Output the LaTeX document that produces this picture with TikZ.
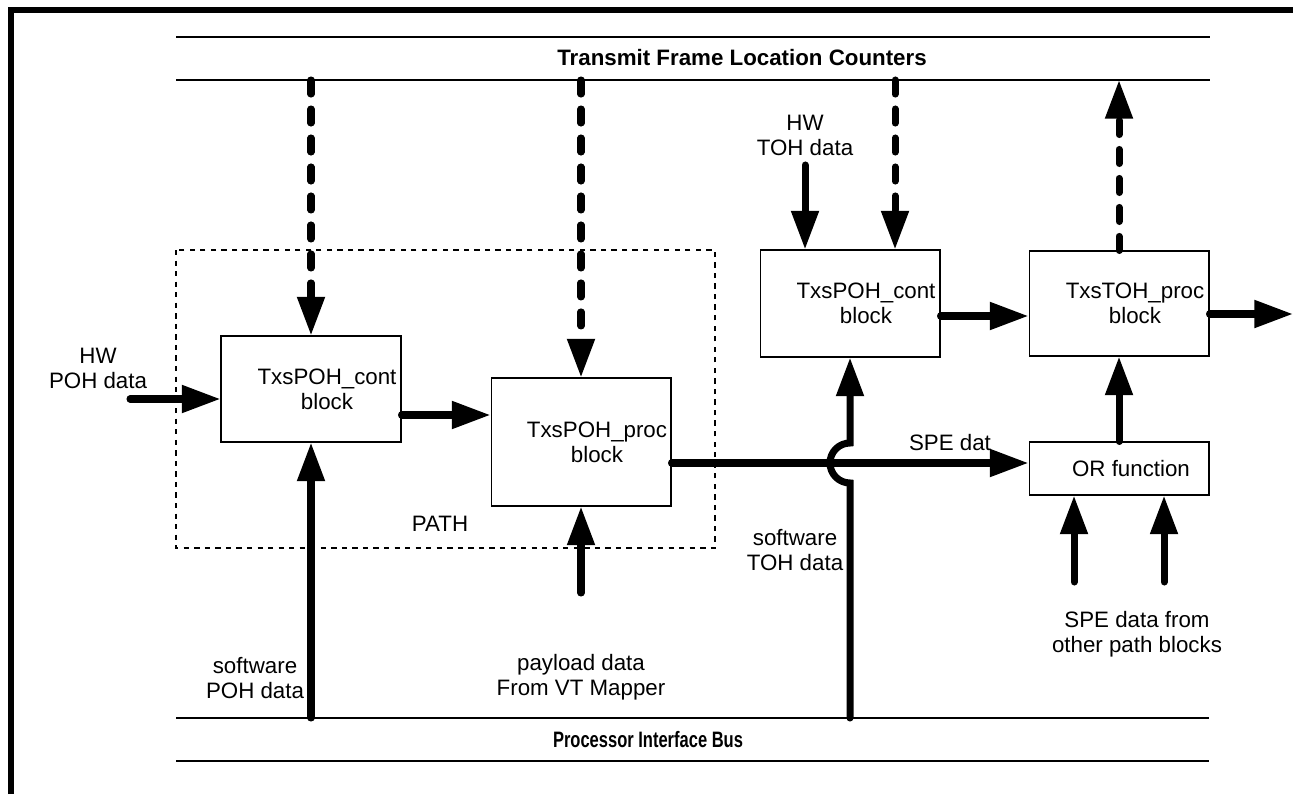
\documentclass[tikz,border=0pt]{standalone}
\usepackage{fontspec}
\setmainfont{Liberation Sans}
\usetikzlibrary{arrows.meta,calc}
\newcommand\lblfont{\fontsize{12.7}{14.3}\selectfont}
\tikzset{
  blockbox/.style={draw, line width=0.6pt, inner sep=0pt, minimum width=3.6cm},
  blocklabel/.style={align=center, xshift=0.32cm},
  textlabel/.style={align=center},
  datalink/.style={line width=4pt, line cap=round, -{Triangle[length=22pt,width=15pt]}},
  ctrllink/.style={datalink, dash pattern=on 8pt off 8.5pt},
  buslink/.style={line width=0.7pt}
}

\begin{document}
\begin{tikzpicture}[x=0.02cm, y=-0.02cm, font=\lblfont]
\useasboundingbox (0,0) rectangle (1293,794);
% frame
\draw[line width=3.4pt] (11,794) -- (11,10) -- (1293,10);

% buses
\coordinate (tbus) at (176,80);
\coordinate (pbus) at (176,718);
\draw[buslink] (176,37) -- (1210,37) (tbus) -- (1210,80);
\node[font=\lblfont\bfseries] (tflc) at (742,58) {Transmit Frame Location Counters};
\draw[buslink] (pbus) -- (1209,718) (176,761) -- (1209,761);
\node (pib) at (648,740) {\scalebox{0.74}[1]{\bfseries Processor Interface Bus}};

% path group
\draw[dashed, line width=0.6pt] (176,250) rectangle (715,548);
\node (pathlbl) at (440,524) {PATH};

% blocks
\node[blockbox, minimum height=2.12cm,
      label={[blocklabel]center:{TxsPOH\_cont\\block}}] (pcont) at (311,389) {};
\node[blockbox, minimum height=2.56cm,
      label={[blocklabel]center:{TxsPOH\_proc\\block}}] (pproc) at (581,442) {};
\node[blockbox, minimum height=2.14cm,
      label={[blocklabel]center:{TxsPOH\_cont\\block}}] (tcont) at (850,303.5) {};
\node[blockbox, minimum height=2.1cm,
      label={[blocklabel]center:{TxsTOH\_proc\\block}}] (tproc) at (1119,303.5) {};
\node[blockbox, minimum height=1.06cm,
      label={[blocklabel, xshift=-0.08cm]center:OR function}] (orf) at (1119,468.5) {};

% counters
\coordinate (tc) at ($(tcont.north)+(45,0)$);
\draw[ctrllink] (pcont |- tbus) -- (pcont.north);
\draw[ctrllink] (pproc |- tbus) -- (pproc.north);
\draw[ctrllink] (tc |- tbus) -- (tc);
\draw[ctrllink] (tproc.north) -- (tproc |- tbus);

% path data
\coordinate (hwp) at (130,399);
\node[textlabel] (hwplbl) at (98,368) {HW\\POH data};
\draw[datalink] (hwp) -- (hwp -| pcont.west);
\coordinate (pc2) at ([yshift=-0.52cm]pcont.east);
\draw[datalink] (pc2) -- (pc2 -| pproc.west);
\draw[datalink] (pcont |- pbus) -- (pcont.south);
\node[textlabel] (swplbl) at (255,678) {software\\POH data};
\coordinate (pay) at (581,593);
\draw[datalink] (pay) -- (pproc.south);
\node[textlabel] (paylbl) at (581,677) {payload data\\From VT Mapper};

% SPE data
\coordinate (spe) at ([yshift=-0.42cm]pproc.east);
\draw[datalink] (spe) -- (spe -| orf.west);
\node (spelbl) at (950,443) {SPE dat};

% TOH data
\coordinate (hop) at (tcont |- spe);
\draw[datalink] (tcont |- pbus) -- ($(hop)+(0,20)$)
  arc[start angle=90, end angle=270, radius=20] -- (tcont.south);
\node[textlabel] (swtlbl) at (795,550) {software\\TOH data};
\coordinate (hwt) at (805,165);
\node[textlabel] (hwtlbl) at (805,135) {HW\\TOH data};
\draw[datalink] (hwt) -- (hwt |- tcont.north);
\coordinate (tc3) at ([yshift=-0.25cm]tcont.east);
\draw[datalink] (tc3) -- (tc3 -| tproc.west);
\coordinate (out) at (1293,314);
\draw[datalink] (out -| tproc.east) -- (out);

% OR function
\draw[datalink] (orf.north) -- (tproc.south);
\coordinate (or1) at (1074,582);
\coordinate (or2) at (1164,582);
\draw[datalink] (or1) -- (or1 |- orf.south);
\draw[datalink] (or2) -- (or2 |- orf.south);
\node[textlabel] (spelbl2) at (1137,634) {SPE data from\\other path blocks};
\end{tikzpicture}
\end{document}
